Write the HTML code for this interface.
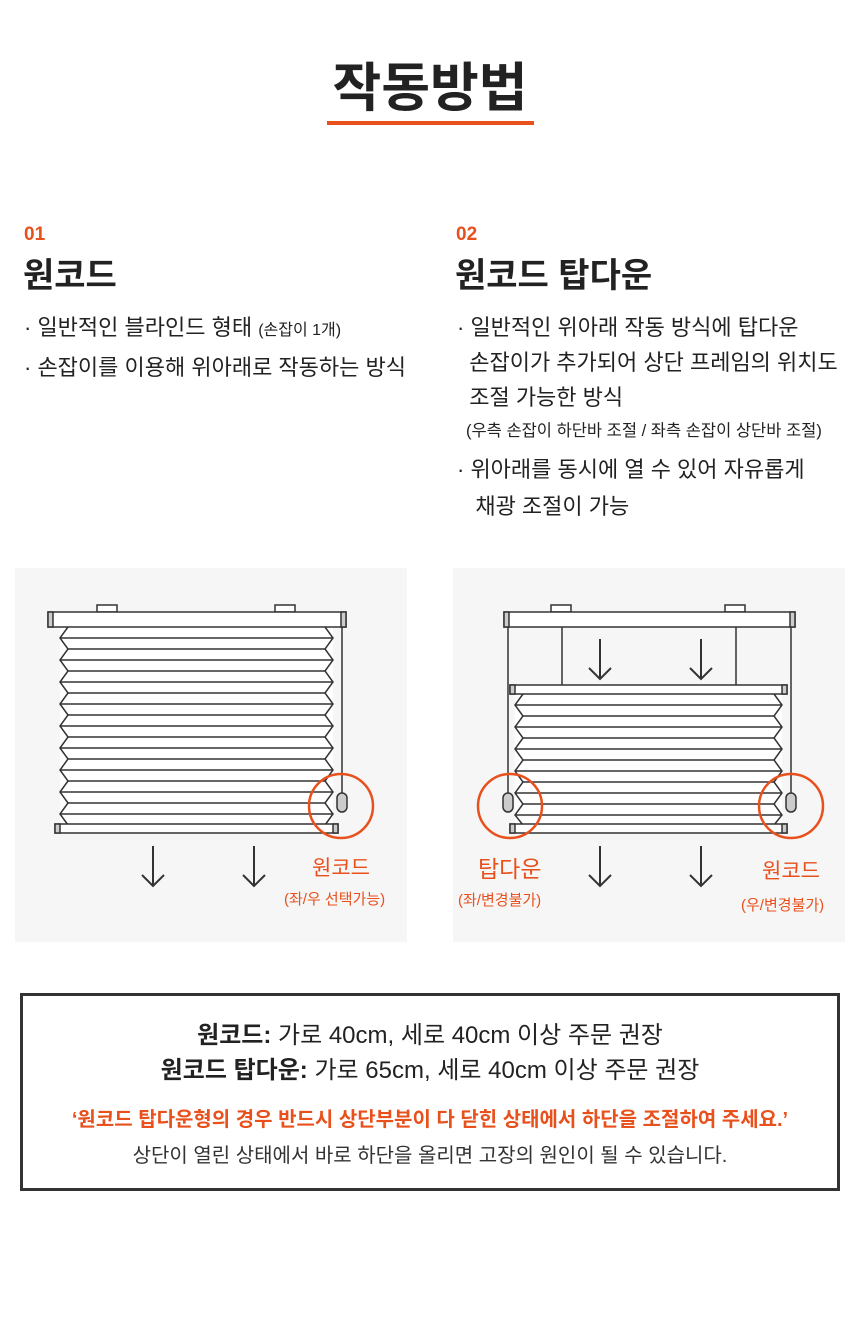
<!DOCTYPE html>
<html><head><meta charset="utf-8"><style>
body{margin:0;width:860px;height:1342px;background:#fff;font-family:"Liberation Sans","Noto Sans CJK KR",sans-serif;color:#222;position:relative;overflow:hidden}
.a{position:absolute;white-space:nowrap}
.o{color:#e8501c}
</style></head><body>
<div class="a" style="left:0;width:860px;text-align:center;top:54px;font-size:53px;font-weight:bold;line-height:70px;">작동방법</div>
<div class="a" style="left:327px;top:121px;width:207px;height:4px;background:#e8501c"></div>

<div class="a o" style="left:24px;top:224px;font-size:19px;font-weight:bold">01</div>
<div class="a" style="left:23px;top:248px;font-size:34px;font-weight:bold">원코드</div>
<div class="a" style="left:24px;top:309px;font-size:22px;line-height:37px">· 일반적인 블라인드 형태 <span style="font-size:16px">(손잡이 1개)</span><br>· 손잡이를 이용해 위아래로 작동하는 방식</div>

<div class="a o" style="left:456px;top:224px;font-size:19px;font-weight:bold">02</div>
<div class="a" style="left:455px;top:248px;font-size:34px;font-weight:bold">원코드 탑다운</div>
<div class="a" style="left:457px;top:310px;font-size:22px;line-height:35px">· 일반적인 위아래 작동 방식에 탑다운<br>&nbsp;&nbsp;손잡이가 추가되어 상단 프레임의 위치도<br>&nbsp;&nbsp;조절 가능한 방식</div>
<div class="a" style="left:466px;top:417px;font-size:16.5px">(우측 손잡이 하단바 조절 / 좌측 손잡이 상단바 조절)</div>
<div class="a" style="left:457px;top:451px;font-size:22px;line-height:37px">· 위아래를 동시에 열 수 있어 자유롭게<br>&nbsp;&nbsp;&nbsp;채광 조절이 가능</div>

<svg class="a" style="left:0;top:0" width="860" height="1342" fill="none" stroke="#333" stroke-width="1.5">
<rect x="15" y="568" width="392" height="374" fill="#f6f6f6" stroke="none"/>
<rect x="453" y="568" width="392" height="374" fill="#f6f6f6" stroke="none"/>
<rect x="97" y="605" width="20" height="7" fill="#fff"/><rect x="275" y="605" width="20" height="7" fill="#fff"/>
<rect x="60" y="627" width="273" height="198" fill="#fff" stroke="none"/>
<polyline points="68,627 60,638 68,649 60,660 68,671 60,682 68,693 60,704 68,715 60,726 68,737 60,748 68,759 60,770 68,781 60,792 68,803 60,814 68,825"/>
<polyline points="325,627 333,638 325,649 333,660 325,671 333,682 325,693 333,704 325,715 333,726 325,737 333,748 325,759 333,770 325,781 333,792 325,803 333,814 325,825"/>
<path d="M60 638H333M68 649H325M60 660H333M68 671H325M60 682H333M68 693H325M60 704H333M68 715H325M60 726H333M68 737H325M60 748H333M68 759H325M60 770H333M68 781H325M60 792H333M68 803H325M60 814H333"/>
<rect x="48" y="612" width="298" height="15" fill="#fff"/>
<rect x="48" y="612" width="5" height="15" fill="#ccc"/><rect x="341" y="612" width="5" height="15" fill="#ccc"/>
<rect x="55" y="824" width="283" height="9" fill="#fff"/>
<rect x="55" y="824" width="5" height="9" fill="#ccc"/><rect x="333" y="824" width="5" height="9" fill="#ccc"/>
<line x1="342" y1="627" x2="342" y2="793"/>
<rect x="337" y="793" width="10" height="19" rx="5" fill="#ccc"/>
<circle cx="341" cy="806" r="32" stroke="#e8501c" stroke-width="2.5"/>
<path d="M153 846V886M142 875L153 886L164 875M254 846V886M243 875L254 886L265 875" stroke-width="2"/>
<rect x="551" y="605" width="20" height="7" fill="#fff"/><rect x="725" y="605" width="20" height="7" fill="#fff"/>
<line x1="562" y1="627" x2="562" y2="685"/><line x1="736" y1="627" x2="736" y2="685"/>
<path d="M600 639V679M589 668L600 679L611 668M701 639V679M690 668L701 679L712 668" stroke-width="2"/>
<rect x="515" y="694" width="267" height="131" fill="#fff" stroke="none"/>
<polyline points="523,694 515,705 523,716 515,727 523,738 515,749 523,760 515,771 523,782 515,793 523,804 515,815 523,825"/>
<polyline points="774,694 782,705 774,716 782,727 774,738 782,749 774,760 782,771 774,782 782,793 774,804 782,815 774,825"/>
<path d="M515 705H782M523 716H774M515 727H782M523 738H774M515 749H782M523 760H774M515 771H782M523 782H774M515 793H782M523 804H774M515 815H782"/>
<rect x="504" y="612" width="291" height="15" fill="#fff"/>
<rect x="504" y="612" width="5" height="15" fill="#ccc"/><rect x="790" y="612" width="5" height="15" fill="#ccc"/>
<rect x="510" y="685" width="277" height="9" fill="#fff"/>
<rect x="510" y="685" width="5" height="9" fill="#ccc"/><rect x="782" y="685" width="5" height="9" fill="#ccc"/>
<rect x="510" y="824" width="277" height="9" fill="#fff"/>
<rect x="510" y="824" width="5" height="9" fill="#ccc"/><rect x="782" y="824" width="5" height="9" fill="#ccc"/>
<line x1="508" y1="627" x2="508" y2="793"/><line x1="791" y1="627" x2="791" y2="793"/>
<rect x="503" y="793" width="10" height="19" rx="5" fill="#ccc"/>
<rect x="786" y="793" width="10" height="19" rx="5" fill="#ccc"/>
<circle cx="510" cy="806" r="32" stroke="#e8501c" stroke-width="2.5"/>
<circle cx="791" cy="806" r="32" stroke="#e8501c" stroke-width="2.5"/>
<path d="M600 846V886M589 875L600 886L611 875M701 846V886M690 875L701 886L712 875" stroke-width="2"/>
</svg>

<div class="a o" style="left:312px;top:852px;font-size:21px">원코드</div>
<div class="a o" style="left:284px;top:888px;font-size:15px">(좌/우 선택가능)</div>
<div class="a o" style="left:478px;top:850px;font-size:23px">탑다운</div>
<div class="a o" style="left:458px;top:889px;font-size:15px">(좌/변경불가)</div>
<div class="a o" style="left:762px;top:855px;font-size:21px">원코드</div>
<div class="a o" style="left:741px;top:894px;font-size:15px">(우/변경불가)</div>

<div class="a" style="left:20px;top:993px;width:814px;height:192px;border:3px solid #333"></div>
<div class="a" style="left:20px;width:820px;text-align:center;top:1018px;font-size:24px;line-height:35px"><b>원코드:</b> 가로 40cm, 세로 40cm 이상 주문 권장<br><b>원코드 탑다운:</b> 가로 65cm, 세로 40cm 이상 주문 권장</div>
<div class="a o" style="left:20px;width:820px;text-align:center;top:1103px;font-size:20px;font-weight:bold">‘원코드 탑다운형의 경우 반드시 상단부분이 다 닫힌 상태에서 하단을 조절하여 주세요.’</div>
<div class="a" style="left:20px;width:820px;text-align:center;top:1139px;font-size:20px;color:#333">상단이 열린 상태에서 바로 하단을 올리면 고장의 원인이 될 수 있습니다.</div>
</body></html>
